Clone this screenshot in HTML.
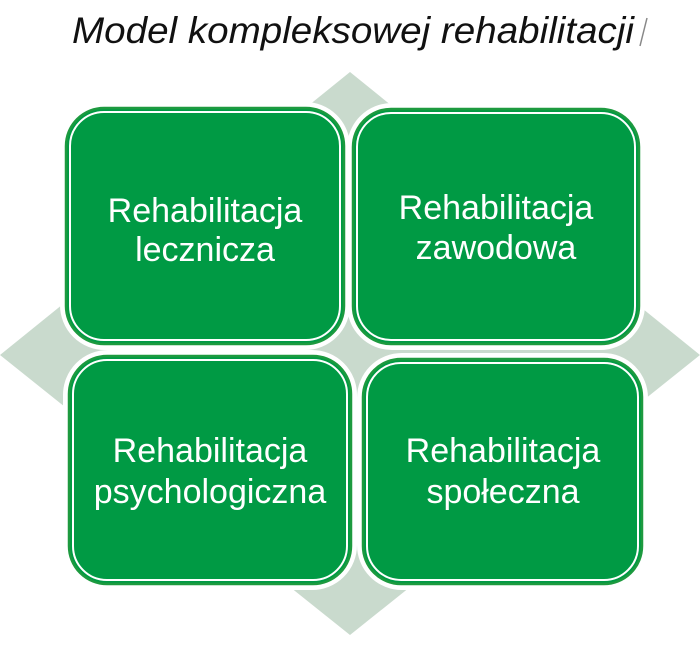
<!DOCTYPE html>
<html><head><meta charset="utf-8"><style>
html,body{margin:0;padding:0;background:#fff;}
body{width:700px;height:652px;overflow:hidden;}
</style></head><body>
<svg width="700" height="652" viewBox="0 0 700 652" xmlns="http://www.w3.org/2000/svg">
<text x="72" y="43" font-family="Liberation Sans, sans-serif" font-style="italic" font-size="37" fill="#111" textLength="562" lengthAdjust="spacingAndGlyphs">Model kompleksowej rehabilitacji</text>
<line x1="647" y1="18" x2="640" y2="46" stroke="#888" stroke-width="1.5"/>
<polygon points="350,72 700,355 350,635 0,355" fill="#c9dacd"/>
<g stroke="#fff" stroke-width="10" fill="#fff">
<rect x="65" y="107" width="280" height="238" rx="40"/>
<rect x="352" y="108" width="288" height="237" rx="40"/>
<rect x="68" y="355" width="284" height="230" rx="40"/>
<rect x="362" y="358" width="281" height="227" rx="40"/>
</g>
<g fill="#009a44" stroke="#1d9a3f" stroke-width="2.5">
<rect x="66" y="108" width="278" height="236" rx="38"/>
<rect x="353" y="109" width="286" height="235" rx="38"/>
<rect x="69" y="356" width="282" height="228" rx="38"/>
<rect x="363" y="359" width="279" height="225" rx="38"/>
</g>
<g fill="none" stroke="#fff" stroke-width="2">
<rect x="70" y="112" width="270" height="228" rx="34"/>
<rect x="357" y="113" width="278" height="227" rx="34"/>
<rect x="73" y="360" width="274" height="220" rx="34"/>
<rect x="367" y="363" width="271" height="217" rx="34"/>
</g>
<g font-family="Liberation Sans, sans-serif" font-size="34" fill="#fff" text-anchor="middle">
<text x="205" y="222">Rehabilitacja</text><text x="205" y="261">lecznicza</text>
<text x="496" y="219">Rehabilitacja</text><text x="496" y="259">zawodowa</text>
<text x="210" y="462">Rehabilitacja</text><text x="210" y="503">psychologiczna</text>
<text x="503" y="462">Rehabilitacja</text><text x="503" y="503">społeczna</text>
</g>
</svg>
</body></html>
